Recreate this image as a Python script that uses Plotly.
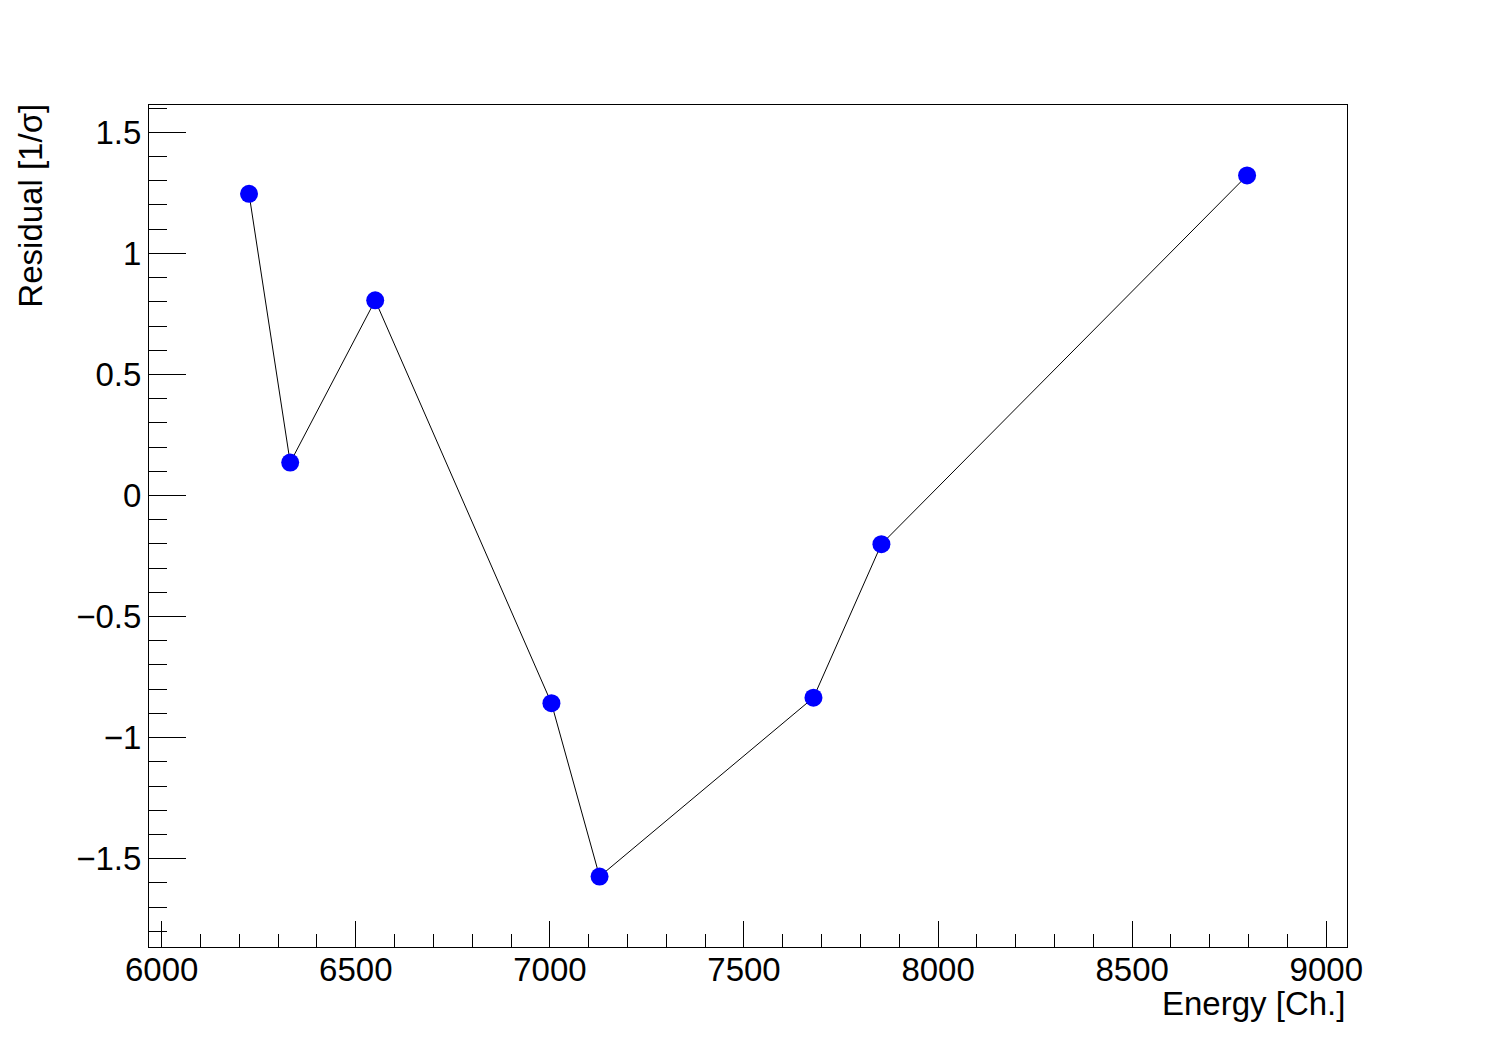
import plotly.graph_objects as go

# Residuals of the calibration fit
energy = [6225, 6331, 6550, 7004, 7128, 7679, 7854, 8796]
residual = [1.246, 0.136, 0.806, -0.858, -1.574, -0.835, -0.201, 1.322]

x_range = [5967.3, 9053.4]
y_range = [-1.865, 1.613]

font_main = "Liberation Sans, Arial, Helvetica, sans-serif"

fig = go.Figure()

fig.add_trace(go.Scatter(
    x=energy,
    y=residual,
    mode="lines+markers",
    line=dict(color="black", width=1),
    marker=dict(color="#0000ff", size=18, line=dict(width=0)),
    showlegend=False,
))

# the page adds an 8px body margin, so shift the frame back
fig.update_layout(
    width=1496,
    height=1052,
    paper_bgcolor="white",
    plot_bgcolor="white",
    margin=dict(l=141, r=157, t=97, b=113),
    font=dict(family=font_main, size=33, color="black"),
)

fig.update_xaxes(
    range=x_range,
    showgrid=False,
    zeroline=False,
    showline=True,
    linecolor="black",
    linewidth=1,
    mirror=True,
    ticks="inside",
    ticklen=26,
    tickwidth=1,
    tickcolor="black",
    tick0=6000,
    dtick=500,
    tickformat="d",
    ticklabelstandoff=-7,
    minor=dict(ticks="inside", ticklen=13, tickcolor="black", tick0=6000, dtick=100, showgrid=False),
)

fig.update_yaxes(
    range=y_range,
    showgrid=False,
    zeroline=False,
    showline=True,
    linecolor="black",
    linewidth=1,
    mirror=True,
    ticks="inside",
    ticklen=37,
    tickwidth=1,
    tickcolor="black",
    tick0=0,
    dtick=0.5,
    ticklabelstandoff=0,
    minor=dict(ticks="inside", ticklen=18, tickcolor="black", tick0=0, dtick=0.1, showgrid=False),
)

# Axis titles placed ROOT-style (right / top aligned)
fig.add_annotation(
    text="Energy [Ch.]",
    xref="paper", yref="paper",
    x=1, y=-0.067,
    xanchor="right", yanchor="middle",
    showarrow=False,
    font=dict(size=33),
)
fig.add_annotation(
    text="Residual [1/σ]",
    xref="paper", yref="paper",
    x=-0.0985, y=1.004,
    xanchor="center", yanchor="top",
    textangle=-90,
    showarrow=False,
    font=dict(size=33),
)

fig.write_html("out.html")
